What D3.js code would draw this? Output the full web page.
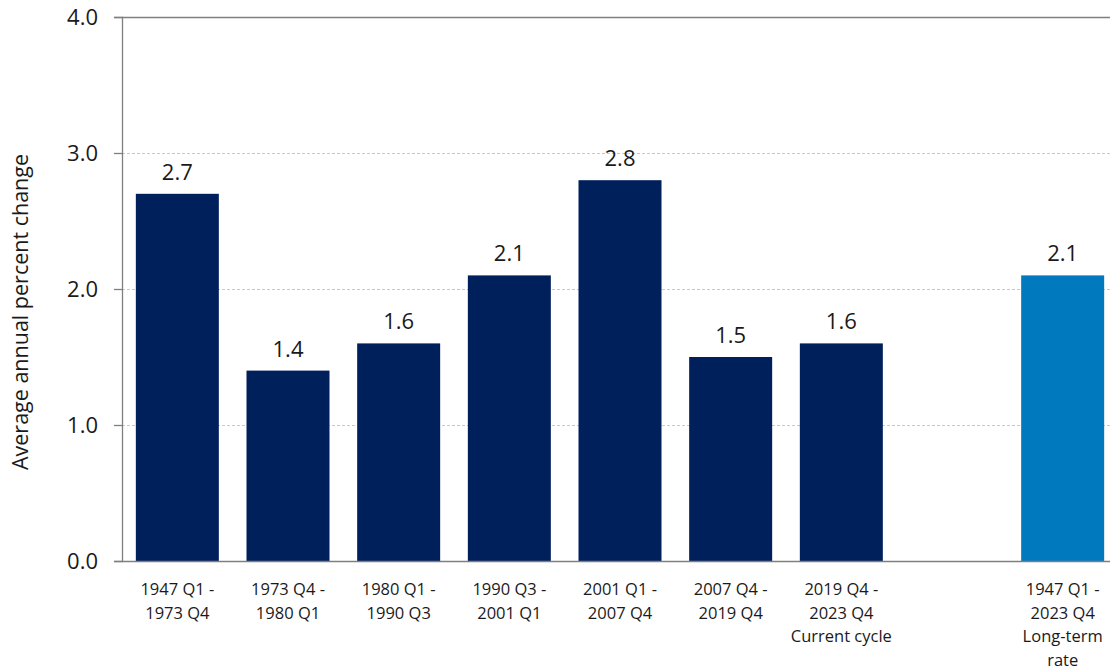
<!DOCTYPE html>
<html>
<head>
<meta charset="utf-8">
<script src="https://cdn.jsdelivr.net/npm/d3@7"></script>
<style>
  body { margin: 0; background: #fff; }
  svg text { font-family: "Open Sans", "Noto Sans", sans-serif; fill: #1a1a1a; }
</style>
</head>
<body>
<svg id="chart"></svg>
<script>
// periods, one empty slot before the long-term bar
var periods = ["p1", "p2", "p3", "p4", "p5", "p6", "p7", "gap", "p8"];
var labels = [
    ["1947 Q1 -", "1973 Q4"],
    ["1973 Q4 -", "1980 Q1"],
    ["1980 Q1 -", "1990 Q3"],
    ["1990 Q3 -", "2001 Q1"],
    ["2001 Q1 -", "2007 Q4"],
    ["2007 Q4 -", "2019 Q4"],
    ["2019 Q4 -", "2023 Q4", "Current cycle"],
    [],
    ["1947 Q1 -", "2023 Q4", "Long-term", "rate"]
];
var values = [2.7, 1.4, 1.6, 2.1, 2.8, 1.5, 1.6, null, 2.1];
var yTicks = [0, 1, 2, 3, 4];

var width = 1110, height = 672;
var margin = {top: 17, right: -8, bottom: 111, left: 122};

var svg = d3.select("#chart")
    .attr("width", width)
    .attr("height", height);

var x = d3.scaleBand()
    .domain(periods)
    .range([margin.left, width - margin.right])
    .paddingInner(0.25)
    .paddingOuter(0.125);

var y = d3.scaleLinear()
    .domain([0, 4])
    .range([height - margin.bottom, margin.top]);

// gridlines
svg.append("g")
    .selectAll("line")
    .data(yTicks.filter(d => d > 0 && d < 4))
    .join("line")
    .attr("x1", margin.left)
    .attr("x2", width)
    .attr("y1", d => y(d) + 0.5)
    .attr("y2", d => y(d) + 0.5)
    .attr("stroke", "#c8c8c8")
    .attr("stroke-dasharray", "3,2");

// top line at 4.0
svg.append("line")
    .attr("x1", margin.left)
    .attr("x2", width)
    .attr("y1", y(4) + 0.5)
    .attr("y2", y(4) + 0.5)
    .attr("stroke", "#7f7f7f")
    .attr("stroke-width", 1.3);

var data = periods.map((p, i) => ({key: p, value: values[i], label: labels[i]}));
var bars = data.filter(d => d.value !== null);

svg.append("g")
    .selectAll("rect")
    .data(bars)
    .join("rect")
    .attr("x", d => x(d.key))
    .attr("width", x.bandwidth())
    .attr("y", d => y(d.value))
    .attr("height", d => y(0) - y(d.value))
    .attr("fill", d => d.key === "p8" ? "#0079BF" : "#00205C");

svg.append("g")
    .selectAll("text")
    .data(bars)
    .join("text")
    .attr("x", d => x(d.key) + x.bandwidth() / 2)
    .attr("y", d => y(d.value) - 14)
    .attr("text-anchor", "middle")
    .style("font-size", "22px")
    .text(d => d.value.toFixed(1));

// y axis
var yAxis = svg.append("g")
    .attr("transform", `translate(${margin.left},0)`)
    .call(d3.axisLeft(y).tickValues(yTicks).tickFormat(d3.format(".1f")).tickSizeOuter(0).tickSize(8).tickPadding(16));
yAxis.select(".domain").attr("stroke", "#7f7f7f").attr("stroke-width", 1.3);
yAxis.selectAll(".tick line").attr("stroke", "#7f7f7f").attr("stroke-width", 1.3);
yAxis.selectAll(".tick text").style("font-size", "22px").attr("fill", "#1a1a1a");

// x baseline
svg.append("line")
    .attr("x1", margin.left)
    .attr("x2", width)
    .attr("y1", y(0) + 0.5)
    .attr("y2", y(0) + 0.5)
    .attr("stroke", "#7f7f7f")
    .attr("stroke-width", 1.3);

// category labels
var cat = svg.append("g")
    .selectAll("text")
    .data(data)
    .join("text")
    .attr("text-anchor", "middle")
    .attr("transform", d => `translate(${x(d.key) + x.bandwidth() / 2},${y(0) + 34})`)
    .style("font-size", "16.5px");
cat.selectAll("tspan")
    .data(d => d.label)
    .join("tspan")
    .attr("x", 0)
    .attr("y", (d, i) => i * 23.5)
    .text(d => d);

// y title
svg.append("text")
    .attr("transform", `translate(28,312) rotate(-90)`)
    .attr("text-anchor", "middle")
    .style("font-size", "21.5px")
    .text("Average annual percent change");
</script>
</body>
</html>
